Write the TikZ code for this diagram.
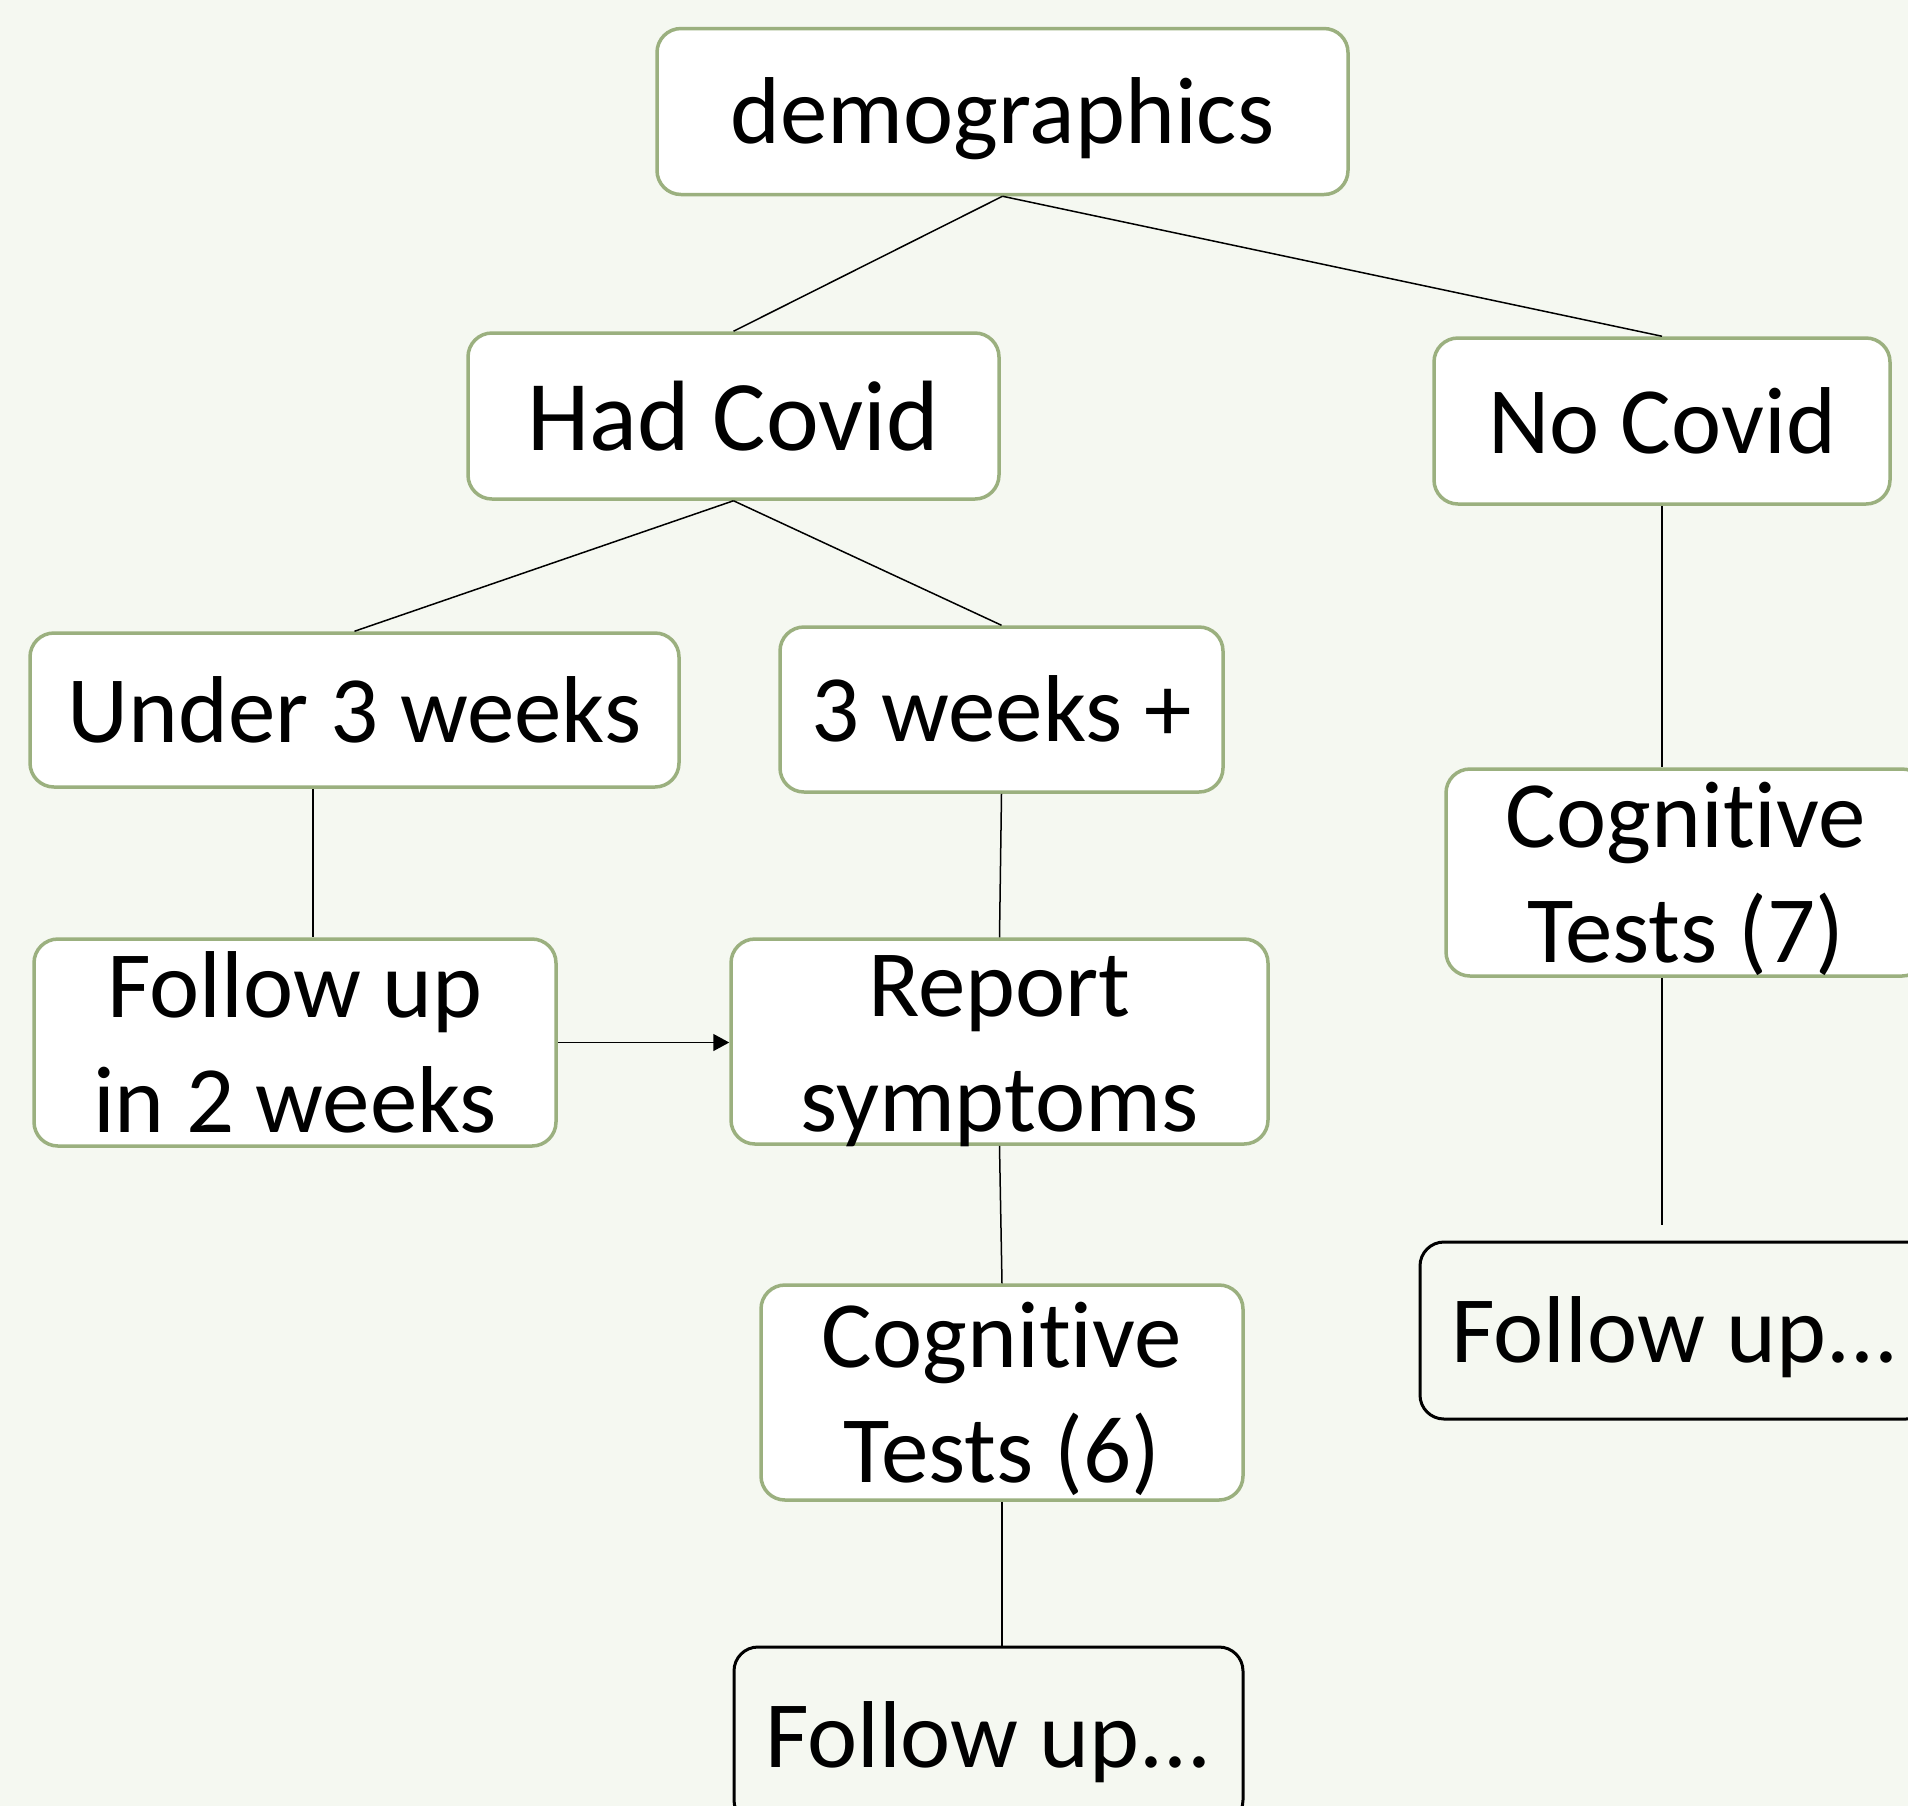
\documentclass[tikz,border=0pt]{standalone}
\usepackage{fontspec}
\setmainfont{Carlito}[Ligatures=NoCommon]
\usetikzlibrary{arrows.meta}

\definecolor{boxgreen}{RGB}{155,176,127}
\definecolor{bggreen}{RGB}{245,248,241}
% strut so every line sits like in the slide
\newcommand{\ls}{\rule[-0.24em]{0pt}{1.16em}}
% two lines that may hang out of their box
\newcommand{\twolines}[2]{\raisebox{0pt}[1.89em][0pt]{\vbox{\halign{\hfil##\hfil\cr #1\cr #2\cr}}}}

\begin{document}
\begin{tikzpicture}[x=0.5pt,y=-0.5pt,
  box/.style={draw=boxgreen,line width=1.75pt,fill=white,rounded corners=12pt,inner sep=0pt,align=center,font=\fontsize{47.5}{57.5}\selectfont},
  endbox/.style={draw=black,line width=1.5pt,rounded corners=12pt,inner sep=0pt,align=center,font=\fontsize{47.5}{57.5}\selectfont},
  link/.style={line width=0.75pt}]

%background
\fill[bggreen] (0,0) rectangle (1908,1806);
\useasboundingbox (0,0) rectangle (1908,1806);

% Boxes
\node[box,minimum width=345.5pt,minimum height=83pt] (demo) at (1002.5,111.5) {\ls demographics};
\node[box,minimum width=265.5pt,minimum height=83pt,font=\fontsize{50}{60}\selectfont] (hadcovid) at (733.5,416) {\ls Had Covid};
\node[box,minimum width=228pt,minimum height=83pt] (nocovid) at (1662,421) {\ls No Covid};
\node[box,minimum width=324.5pt,minimum height=77pt] (under3) at (354.5,710) {\ls Under 3 weeks};
\node[box,minimum width=221.5pt,minimum height=82.5pt] (over3) at (1001.5,709.5) {\ls 3 weeks +};
\node[box,minimum width=261pt,minimum height=103.5pt] (followtwo) at (295,1042.5) {\twolines{Follow up}{in 2 weeks}};
\node[box,minimum width=268.5pt,minimum height=102.5pt] (report) at (999.5,1041.5) {\twolines{Report}{symptoms}};
\node[box,minimum width=240pt,minimum height=103.5pt] (cogseven) at (1686,872.5) {\twolines{Cognitive}{Tests (7)}};
\node[box,minimum width=241pt,minimum height=107.5pt] (cogsix) at (1002,1392.5) {\twolines{Cognitive}{Tests (6)}};
\node[endbox,minimum width=255pt,minimum height=88.5pt] (followright) at (1675,1330.5) {\ls Follow up...};
\node[endbox,minimum width=254.5pt,minimum height=88.5pt] (followdown) at (988.5,1735.5) {\ls Follow up...};

% Lines
\draw[link] (demo.south) -- (hadcovid.north);
\draw[link] (demo.south) -- (nocovid.north);
\draw[link] (hadcovid.south) -- (under3.north);
\draw[link] (hadcovid.south) -- (over3.north);

\coordinate (under3s) at ([xshift=-20.75pt]under3.south);
\draw[link] (under3s) -- (under3s |- followtwo.north);
\draw[link] (over3.south) -- (report.north);
\draw[link] (report.south) -- (cogsix.north);
\draw[link] (cogsix.south) -- (cogsix.south |- followdown.north);

\draw[link] (nocovid.south) -- (nocovid.south |- cogseven.north);
\coordinate (cogsevenend) at (1662,1225);
\draw[link] (cogsevenend |- cogseven.south) -- (cogsevenend);

% Arrow
\draw[link,-{Triangle[length=8pt,width=8.5pt]}] (followtwo.east) -- (followtwo.east -| report.west);

\end{tikzpicture}
\end{document}
